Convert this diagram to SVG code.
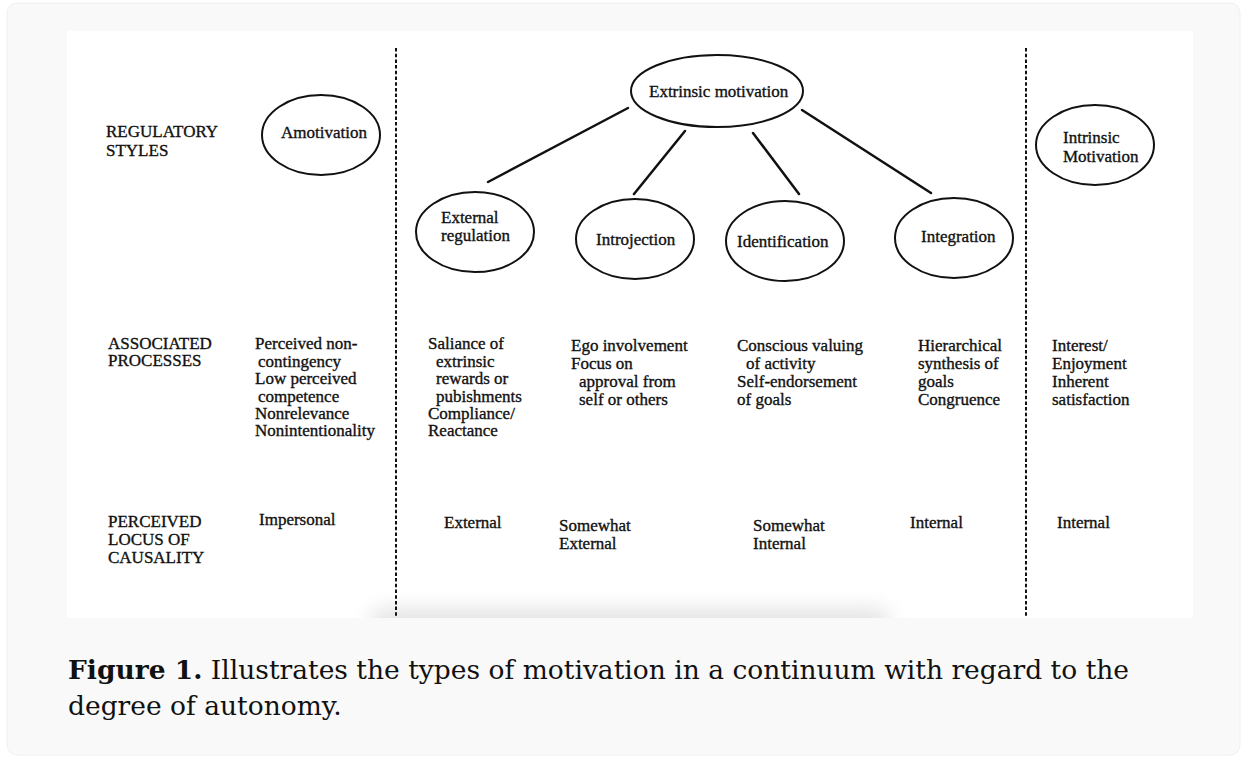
<svg xmlns="http://www.w3.org/2000/svg" width="1248" height="759" viewBox="0 0 1248 759">
  <defs>
    <style>
      .t { font-family: "Liberation Serif", "Times New Roman", serif; font-size: 17px; fill: #111; stroke: #111; stroke-width: 0.35; }
      .node { fill: #fff; stroke: #111; stroke-width: 2; }
      .edge { stroke: #111; stroke-width: 2.5; stroke-linecap: round; fill: none; }
      .div { stroke: #111; stroke-width: 2; stroke-dasharray: 3.5 2.2; fill: none; }
      .cap { font-family: "DejaVu Serif", serif; font-size: 26.5px; fill: #111; }
    </style>
    <filter id="blur" x="-20%" y="-100%" width="140%" height="300%">
      <feGaussianBlur stdDeviation="10"/>
    </filter>
    <clipPath id="imgclip">
      <rect x="67" y="31" width="1126" height="587"/>
    </clipPath>
  </defs>

  <rect x="0" y="0" width="1248" height="759" fill="#ffffff"/>
  <rect x="7" y="3" width="1233" height="752" rx="10" fill="#f9f9f9" stroke="#f0f0f0"/>
  <rect x="67" y="31" width="1126" height="587" fill="#ffffff"/>
  <g clip-path="url(#imgclip)">
    <rect x="370" y="608" width="520" height="30" rx="15" fill="#e4e4e4" filter="url(#blur)"/>
  </g>

  <g id="dividers">
    <line class="div" x1="396" y1="48" x2="396" y2="618"/>
    <line class="div" x1="1026" y1="48" x2="1026" y2="618"/>
  </g>

  <g id="row-labels">
    <text class="t" x="106" y="137">REGULATORY</text>
    <text class="t" x="106" y="156">STYLES</text>
    <text class="t" x="108" y="349">ASSOCIATED</text>
    <text class="t" x="108" y="366">PROCESSES</text>
    <text class="t" x="108" y="527">PERCEIVED</text>
    <text class="t" x="108" y="545">LOCUS OF</text>
    <text class="t" x="108" y="563">CAUSALITY</text>
  </g>

  <g id="connectors">
    <line class="edge" x1="628" y1="108" x2="488" y2="182"/>
    <line class="edge" x1="685" y1="131" x2="634" y2="194"/>
    <line class="edge" x1="753" y1="133" x2="799" y2="194"/>
    <line class="edge" x1="802" y1="110" x2="931" y2="193"/>
  </g>

  <g id="amotivation">
    <ellipse class="node" cx="321" cy="135" rx="59" ry="40"/>
    <text class="t" x="281" y="138">Amotivation</text>
  </g>

  <g id="extrinsic-motivation">
    <ellipse class="node" cx="717" cy="91" rx="86" ry="36"/>
    <text class="t" x="649" y="97">Extrinsic motivation</text>
  </g>

  <g id="external-regulation">
    <ellipse class="node" cx="475" cy="232" rx="59" ry="40"/>
    <text class="t" x="441" y="223">External</text>
    <text class="t" x="441" y="241">regulation</text>
  </g>

  <g id="introjection">
    <ellipse class="node" cx="635" cy="239" rx="59" ry="40"/>
    <text class="t" x="596" y="245">Introjection</text>
  </g>

  <g id="identification">
    <ellipse class="node" cx="785" cy="241" rx="59" ry="40"/>
    <text class="t" x="737" y="247">Identification</text>
  </g>

  <g id="integration">
    <ellipse class="node" cx="954" cy="238" rx="59" ry="40"/>
    <text class="t" x="921" y="242">Integration</text>
  </g>

  <g id="intrinsic-motivation">
    <ellipse class="node" cx="1095" cy="145" rx="59" ry="40"/>
    <text class="t" x="1063" y="143">Intrinsic</text>
    <text class="t" x="1063" y="162">Motivation</text>
  </g>

  <g id="processes">
    <text class="t" x="255" y="349">Perceived non-</text>
    <text class="t" x="258" y="367">contingency</text>
    <text class="t" x="255" y="384">Low perceived</text>
    <text class="t" x="258" y="402">competence</text>
    <text class="t" x="255" y="419">Nonrelevance</text>
    <text class="t" x="255" y="436">Nonintentionality</text>

    <text class="t" x="428" y="349">Saliance of</text>
    <text class="t" x="436" y="367">extrinsic</text>
    <text class="t" x="436" y="384">rewards or</text>
    <text class="t" x="436" y="402">pubishments</text>
    <text class="t" x="428" y="419">Compliance/</text>
    <text class="t" x="428" y="436">Reactance</text>

    <text class="t" x="571" y="351">Ego involvement</text>
    <text class="t" x="571" y="369">Focus on</text>
    <text class="t" x="579" y="387">approval from</text>
    <text class="t" x="579" y="405">self or others</text>

    <text class="t" x="737" y="351">Conscious valuing</text>
    <text class="t" x="746" y="369">of activity</text>
    <text class="t" x="737" y="387">Self-endorsement</text>
    <text class="t" x="737" y="405">of goals</text>

    <text class="t" x="918" y="351">Hierarchical</text>
    <text class="t" x="918" y="369">synthesis of</text>
    <text class="t" x="918" y="387">goals</text>
    <text class="t" x="918" y="405">Congruence</text>

    <text class="t" x="1052" y="351">Interest/</text>
    <text class="t" x="1052" y="369">Enjoyment</text>
    <text class="t" x="1052" y="387">Inherent</text>
    <text class="t" x="1052" y="405">satisfaction</text>
  </g>

  <g id="locus">
    <text class="t" x="259" y="525">Impersonal</text>
    <text class="t" x="444" y="528">External</text>
    <text class="t" x="559" y="531">Somewhat</text>
    <text class="t" x="559" y="549">External</text>
    <text class="t" x="753" y="531">Somewhat</text>
    <text class="t" x="753" y="549">Internal</text>
    <text class="t" x="910" y="528">Internal</text>
    <text class="t" x="1057" y="528">Internal</text>
  </g>

  <g id="caption">
    <text class="cap" x="68" y="679"><tspan font-weight="bold">Figure 1.</tspan> Illustrates the types of motivation in a continuum with regard to the</text>
    <text class="cap" x="68" y="715">degree of autonomy.</text>
  </g>
</svg>
